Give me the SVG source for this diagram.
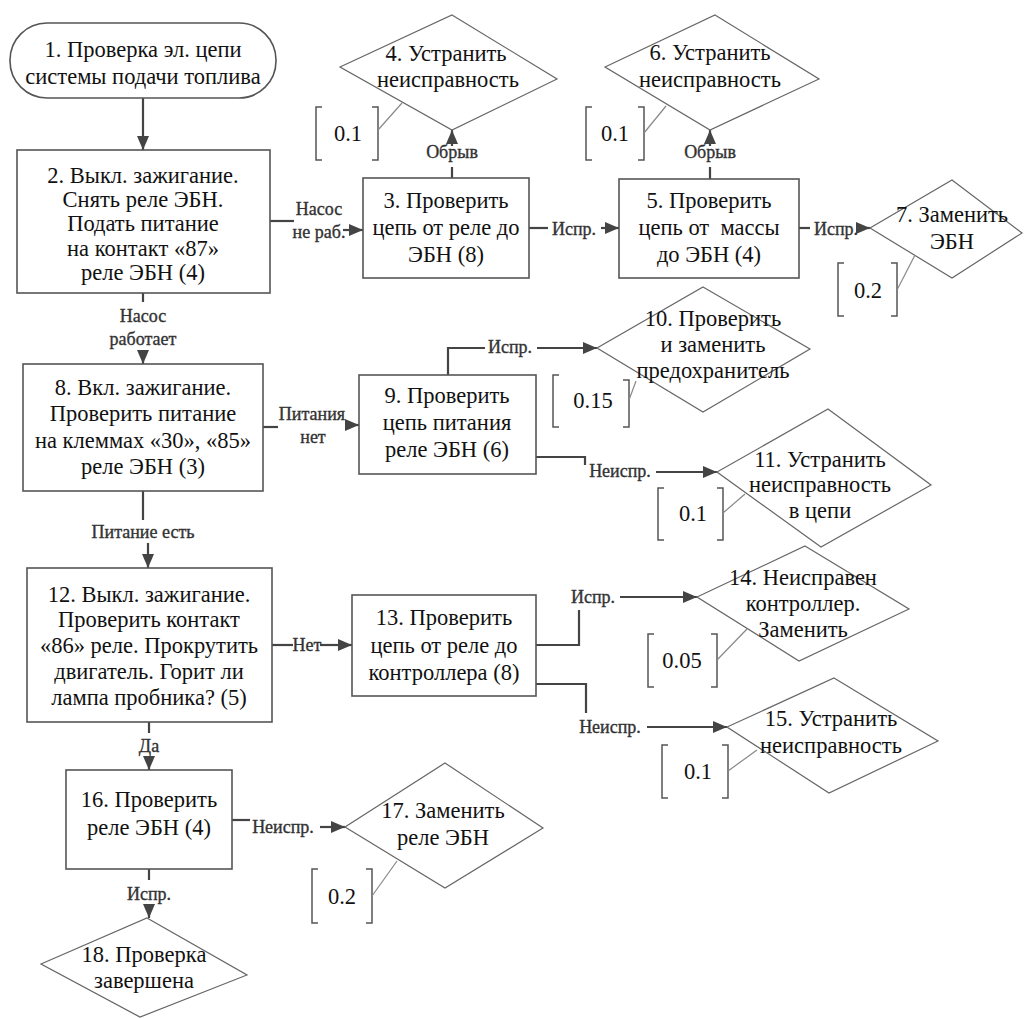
<svg xmlns="http://www.w3.org/2000/svg" width="1036" height="1018" viewBox="0 0 1036 1018">
<defs>
<style>
.t{font-family:"Liberation Serif","Times New Roman",serif;font-size:22.5px;fill:#111;text-anchor:middle}
.l{font-family:"Liberation Serif","Times New Roman",serif;font-size:18px;fill:#333;stroke:#333;stroke-width:0.35;text-anchor:middle}
.box{fill:#fff;stroke:#555;stroke-width:1.6}
.dia{fill:#fff;stroke:#666;stroke-width:1.2}
.br{fill:none;stroke:#555;stroke-width:1.5}
.ld{stroke:#888;stroke-width:1.2}
.c{fill:none;stroke:#444;stroke-width:2.2}
.a{fill:none;stroke:#444;stroke-width:2.2;marker-end:url(#ah)}
</style>
<marker id="ah" markerWidth="14" markerHeight="12" refX="14" refY="6" orient="auto" markerUnits="userSpaceOnUse">
<path d="M0,0 L14,6 L0,12 z" fill="#444"/>
</marker>
</defs>
<rect width="1036" height="1018" fill="#fff"/>

<g id="connectors">
<path class="a" d="M143,98 V150"/>
<path class="c" d="M270,221 H294"/>
<path class="a" d="M343,230 H363"/>
<text class="l" x="319" y="215">Насос</text>
<text class="l" x="319" y="238">не раб.</text>
<path class="c" d="M452,178 V167"/>
<path class="a" d="M452,146 V130"/>
<text class="l" x="452" y="158">Обрыв</text>
<path class="c" d="M529,228 H548"/>
<path class="a" d="M601,228 H619"/>
<text class="l" x="574" y="235">Испр.</text>
<path class="c" d="M710,179 V167"/>
<path class="a" d="M710,146 V130"/>
<text class="l" x="710" y="158">Обрыв</text>
<path class="c" d="M799,228 H810"/>
<path class="a" d="M860,228 H870"/>
<text class="l" x="836" y="235">Испр.</text>
<path class="c" d="M143,293 V302"/>
<path class="a" d="M143,350 V364"/>
<text class="l" x="143" y="322">Насос</text>
<text class="l" x="143" y="345">работает</text>
<path class="c" d="M263,427 H278"/>
<path class="a" d="M345,425 H359"/>
<text class="l" x="312" y="420">Питания</text>
<text class="l" x="313" y="443">нет</text>
<path class="c" d="M448,375 V348 H485"/>
<path class="a" d="M537,348 H597"/>
<text class="l" x="510" y="353">Испр.</text>
<path class="c" d="M536,457 H585 V465"/>
<path class="a" d="M656,472 H717"/>
<text class="l" x="620" y="477">Неиспр.</text>
<path class="c" d="M143,491 V520"/>
<path class="a" d="M148,543 V568"/>
<text class="l" x="143" y="538">Питание есть</text>
<path class="c" d="M272,645 H293"/>
<path class="a" d="M320,645 H352"/>
<text class="l" x="307" y="651">Нет</text>
<path class="c" d="M536,645 H579 V610"/>
<path class="a" d="M620,597 H697"/>
<text class="l" x="593" y="603">Испр.</text>
<path class="c" d="M536,684 H586 V713"/>
<path class="a" d="M647,727 H727"/>
<text class="l" x="610" y="733">Неиспр.</text>
<path class="c" d="M149,722 V733"/>
<path class="a" d="M149,756 V770"/>
<text class="l" x="149" y="752">Да</text>
<path class="c" d="M232,820 H250"/>
<path class="a" d="M320,827 H345"/>
<text class="l" x="283" y="833">Неиспр.</text>
<path class="c" d="M149,869 V880"/>
<path class="a" d="M149,905 V918"/>
<text class="l" x="149" y="900">Испр.</text>
</g>

<g id="node1">
<rect class="box" x="10" y="23" width="266" height="75" rx="37" ry="37" stroke-width="1.2"/>
<text class="t" x="143" y="57">1. Проверка эл. цепи</text>
<text class="t" x="143" y="84">системы подачи топлива</text>
</g>
<g id="node2">
<rect class="box" x="17" y="150" width="253" height="143"/>
<text class="t" x="143" y="183">2. Выкл. зажигание.</text>
<text class="t" x="143" y="207">Снять реле ЭБН.</text>
<text class="t" x="143" y="231">Подать питание</text>
<text class="t" x="143" y="256">на контакт «87»</text>
<text class="t" x="143" y="280">реле ЭБН (4)</text>
</g>
<g id="node3">
<rect class="box" x="363" y="178" width="166" height="100"/>
<text class="t" x="446" y="208">3. Проверить</text>
<text class="t" x="446" y="235">цепь от реле до</text>
<text class="t" x="446" y="262">ЭБН (8)</text>
</g>
<g id="node4">
<polygon class="dia" points="452,15 557,79 452,130 340,67"/>
<text class="t" x="446" y="61">4. Устранить</text>
<text class="t" x="448" y="87">неисправность</text>
<path class="br" d="M322,107 H316 V160 H322 M372,107 H378 V160 H372"/>
<line class="ld" x1="378" y1="130" x2="402" y2="103"/>
<text class="t" x="348" y="141">0.1</text>
</g>
<g id="node5">
<rect class="box" x="619" y="179" width="180" height="99"/>
<text class="t" x="709" y="208">5. Проверить</text>
<text class="t" x="709" y="235" xml:space="preserve">цепь от  массы</text>
<text class="t" x="709" y="262">до ЭБН (4)</text>
</g>
<g id="node6">
<polygon class="dia" points="715,15 819,79 710,130 605,67"/>
<text class="t" x="710" y="60">6. Устранить</text>
<text class="t" x="710" y="87">неисправность</text>
<path class="br" d="M592,107 H586 V160 H592 M638,107 H644 V160 H638"/>
<line class="ld" x1="644" y1="133" x2="666" y2="106"/>
<text class="t" x="615" y="141">0.1</text>
</g>
<g id="node7">
<polygon class="dia" points="952,180 1022,233 952,278 870,228"/>
<text class="t" x="952" y="222">7. Заменить</text>
<text class="t" x="952" y="249">ЭБН</text>
<path class="br" d="M844,263 H838 V316 H844 M891,263 H897 V316 H891"/>
<line class="ld" x1="897" y1="290" x2="915" y2="255"/>
<text class="t" x="868" y="298">0.2</text>
</g>
<g id="node8">
<rect class="box" x="23" y="364" width="240" height="127"/>
<text class="t" x="143" y="395">8. Вкл. зажигание.</text>
<text class="t" x="143" y="421">Проверить питание</text>
<text class="t" x="143" y="448">на клеммах «30», «85»</text>
<text class="t" x="143" y="474">реле ЭБН (3)</text>
</g>
<g id="node9">
<rect class="box" x="359" y="375" width="177" height="99"/>
<text class="t" x="447" y="403">9. Проверить</text>
<text class="t" x="447" y="430">цепь питания</text>
<text class="t" x="447" y="457">реле ЭБН (6)</text>
</g>
<g id="node10">
<polygon class="dia" points="703,287 810,349 703,412 597,348"/>
<text class="t" x="713" y="326">10. Проверить</text>
<text class="t" x="713" y="352">и заменить</text>
<text class="t" x="713" y="378">предохранитель</text>
<path class="br" d="M559,375 H553 V427 H559 M623,380 H629 V427 H623"/>
<line class="ld" x1="629" y1="400" x2="636" y2="381"/>
<text class="t" x="593" y="408">0.15</text>
</g>
<g id="node11">
<polygon class="dia" points="828,409 931,485 821,547 717,472"/>
<text class="t" x="820" y="467">11. Устранить</text>
<text class="t" x="820" y="492">неисправность</text>
<text class="t" x="820" y="518">в цепи</text>
<path class="br" d="M664,488 H658 V540 H664 M717,488 H723 V540 H717"/>
<line class="ld" x1="723" y1="513" x2="745" y2="494"/>
<text class="t" x="693" y="521">0.1</text>
</g>
<g id="node12">
<rect class="box" x="27" y="568" width="245" height="154"/>
<text class="t" x="149" y="602">12. Выкл. зажигание.</text>
<text class="t" x="149" y="627">Проверить контакт</text>
<text class="t" x="149" y="653">«86» реле. Прокрутить</text>
<text class="t" x="149" y="679">двигатель. Горит ли</text>
<text class="t" x="149" y="705">лампа пробника? (5)</text>
</g>
<g id="node13">
<rect class="box" x="352" y="595" width="184" height="101"/>
<text class="t" x="444" y="625">13. Проверить</text>
<text class="t" x="444" y="653">цепь от реле до</text>
<text class="t" x="444" y="680">контроллера (8)</text>
</g>
<g id="node14">
<polygon class="dia" points="805,546 909,609 799,661 697,597"/>
<text class="t" x="803" y="585">14. Неисправен</text>
<text class="t" x="803" y="611">контроллер.</text>
<text class="t" x="803" y="637">Заменить</text>
<path class="br" d="M654,634 H648 V687 H654 M711,634 H717 V687 H711"/>
<line class="ld" x1="717" y1="660" x2="747" y2="629"/>
<text class="t" x="682" y="668">0.05</text>
</g>
<g id="node15">
<polygon class="dia" points="834,678 938,741 829,793 727,727"/>
<text class="t" x="831" y="726">15. Устранить</text>
<text class="t" x="831" y="753">неисправность</text>
<path class="br" d="M668,745 H662 V798 H668 M722,745 H728 V798 H722"/>
<line class="ld" x1="728" y1="771" x2="757" y2="750"/>
<text class="t" x="698" y="779">0.1</text>
</g>
<g id="node16">
<rect class="box" x="66" y="770" width="166" height="99"/>
<text class="t" x="149" y="807">16. Проверить</text>
<text class="t" x="149" y="835">реле ЭБН (4)</text>
</g>
<g id="node17">
<polygon class="dia" points="445,763 543,828 445,888 345,827"/>
<text class="t" x="443" y="818">17. Заменить</text>
<text class="t" x="443" y="845">реле ЭБН</text>
<path class="br" d="M318,869 H312 V923 H318 M366,869 H372 V923 H366"/>
<line class="ld" x1="372" y1="896" x2="397" y2="861"/>
<text class="t" x="342" y="904">0.2</text>
</g>
<g id="node18">
<polygon class="dia" points="147,918 247,975 140,1017 41,964"/>
<text class="t" x="144" y="962">18. Проверка</text>
<text class="t" x="144" y="988">завершена</text>
</g>
</svg>
